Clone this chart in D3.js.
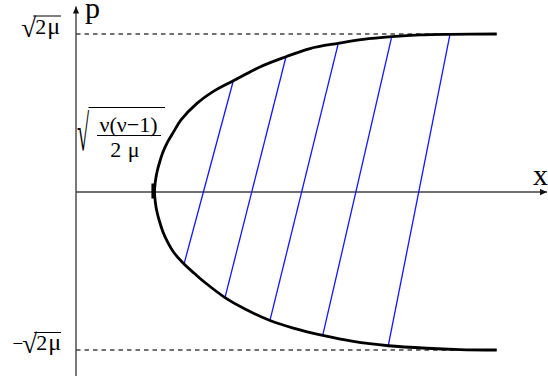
<!DOCTYPE html>
<html><head><meta charset="utf-8">
<script src="https://cdn.jsdelivr.net/npm/d3@7"></script>
<style>body{margin:0;background:#fff}svg{display:block}</style>
</head><body><svg id="c" width="548" height="381"></svg>
<script>
// ---- data (x in units of the turning point, p in units of sqrt(2mu)) ----
const upperX = [1.000, 1.010, 1.032, 1.066, 1.108, 1.166, 1.242, 1.338, 1.541, 1.745, 2.004, 2.350, 2.675, 2.981, 3.341, 3.660, 4.022, 4.382, 4.764, 5.359];
const upperP = [0.000, 0.063, 0.127, 0.190, 0.253, 0.316, 0.380, 0.456, 0.561, 0.635, 0.704, 0.793, 0.856, 0.908, 0.941, 0.966, 0.983, 0.994, 0.998, 1.000];
const lowerX = [1.010, 1.032, 1.066, 1.108, 1.166, 1.242, 1.376, 1.510, 1.643, 1.898, 2.153, 2.471, 2.768, 3.143, 3.532, 3.978, 4.468, 4.892, 5.359];
const lowerP = [-0.063, -0.127, -0.190, -0.253, -0.316, -0.380, -0.456, -0.516, -0.573, -0.668, -0.741, -0.813, -0.861, -0.908, -0.946, -0.973, -0.989, -0.997, -1.000];
const chordX0 = [1.376, 1.898, 2.471, 3.143, 3.978];
const chordP0 = [-0.456, -0.668, -0.813, -0.908, -0.973];
const chordX1 = [2.004, 2.675, 3.341, 4.022, 4.764];
const chordP1 = [0.704, 0.856, 0.941, 0.983, 0.998];
const limitP = [1, -1];
const limitSign = ["", "−"];
const turningX = 1;
const turningNum = "ν(ν−1)";
const turningDen = "2 μ";
const axisXMax = 6.0, axisPMin = -1.165, axisPMax = 1.174;
const curveEndX = 5.359;

const svg = d3.select("#c");
const x = d3.scaleLinear().domain([0, 6]).range([76, 547]);
const y = d3.scaleLinear().domain([-1, 1]).range([350, 34]);
const serif = "'Liberation Serif','Times New Roman',serif";
const axisCol = "#404040";

const defs = svg.append("defs");
defs.append("marker").attr("id", "arr").attr("viewBox", "0 0 10 10")
  .attr("refX", 10).attr("refY", 5).attr("markerWidth", 8).attr("markerHeight", 7)
  .attr("markerUnits", "userSpaceOnUse").attr("orient", "auto")
  .append("path").attr("d", "M0,0.5L10,5L0,9.5Z").attr("fill", "#111");

// dashed limit lines
svg.selectAll("line.lim").data(limitP).join("line").attr("class", "lim")
  .attr("x1", x(0)).attr("x2", x(curveEndX)).attr("y1", d => y(d)).attr("y2", d => y(d))
  .attr("stroke", "#444").attr("stroke-width", 1.3).attr("stroke-dasharray", "4.5,4");

// axes
svg.append("line").attr("x1", x(0)).attr("x2", x(axisXMax)).attr("y1", y(0)).attr("y2", y(0))
  .attr("stroke", axisCol).attr("stroke-width", 1.4).attr("marker-end", "url(#arr)");
svg.append("line").attr("x1", x(0)).attr("x2", x(0)).attr("y1", y(axisPMin)).attr("y2", y(axisPMax))
  .attr("stroke", axisCol).attr("stroke-width", 1.4).attr("marker-end", "url(#arr)");

// chords
svg.selectAll("line.ch").data(chordX0).join("line").attr("class", "ch")
  .attr("x1", (d, i) => x(chordX0[i])).attr("y1", (d, i) => y(chordP0[i]))
  .attr("x2", (d, i) => x(chordX1[i])).attr("y2", (d, i) => y(chordP1[i]))
  .attr("stroke", "#1515ff").attr("stroke-width", 1.3);

// orbit curve
const pts = lowerX.map((v, i) => [v, lowerP[i]]).reverse()
  .concat(upperX.map((v, i) => [v, upperP[i]]));
svg.append("path").datum(pts)
  .attr("d", d3.line().x(d => x(d[0])).y(d => y(d[1])).curve(d3.curveCatmullRom.alpha(0.5)))
  .attr("fill", "none").attr("stroke", "#000").attr("stroke-width", 2.8);

// turning point tick
svg.append("line").attr("x1", x(turningX) - 1.2).attr("x2", x(turningX) - 1.2)
  .attr("y1", y(0) - 8.5).attr("y2", y(0) + 6.5).attr("stroke", "#000").attr("stroke-width", 3.8);

// axis names
svg.append("text").attr("x", 85).attr("y", 18).attr("font-family", serif).attr("font-size", 30).text("p");
svg.append("text").attr("x", 533).attr("y", 185).attr("font-family", serif).attr("font-size", 30).text("x");

// limit labels  ±sqrt(2 mu)
limitP.forEach((p, i) => {
  const base = y(p) - (i === 0 ? 0.5 : 0);
  const t = svg.append("text").attr("x", 61).attr("y", base).attr("text-anchor", "end")
    .attr("font-family", serif).attr("font-size", 22);
  if (limitSign[i]) t.append("tspan").attr("font-size", 19).text(limitSign[i]);
  t.append("tspan").attr("font-size", 27).attr("dy", 3).attr("dx", -1).text("√");
  t.append("tspan").attr("dy", -3).attr("dx", -1).text("2");
  t.append("tspan").attr("font-size", 24).attr("dx", 1).text("μ");
  const idx = limitSign[i].length + 1;
  const sx = t.node().getStartPositionOfChar(idx).x;
  svg.append("line").attr("x1", sx - 2).attr("x2", 61).attr("y1", base - 17.5).attr("y2", base - 17.5)
    .attr("stroke", "#000").attr("stroke-width", 1);
});

// turning point label: sqrt(nu(nu-1)/(2 mu))
svg.append("text").attr("font-family", serif).attr("font-size", 22)
  .attr("transform", "translate(77,150) scale(1,2.3)").text("√");
svg.append("line").attr("x1", 88.5).attr("x2", 165).attr("y1", 107.5).attr("y2", 107.5)
  .attr("stroke", "#000").attr("stroke-width", 1);
svg.append("text").attr("x", 128.5).attr("y", 131.5).attr("text-anchor", "middle")
  .attr("font-family", serif).attr("font-size", 22).text(turningNum);
svg.append("line").attr("x1", 97).attr("x2", 161).attr("y1", 135.5).attr("y2", 135.5)
  .attr("stroke", "#000").attr("stroke-width", 1);
svg.append("text").attr("x", 125).attr("y", 156.5).attr("text-anchor", "middle")
  .attr("font-family", serif).attr("font-size", 22).attr("word-spacing", 1).text(turningDen);
</script></body></html>
